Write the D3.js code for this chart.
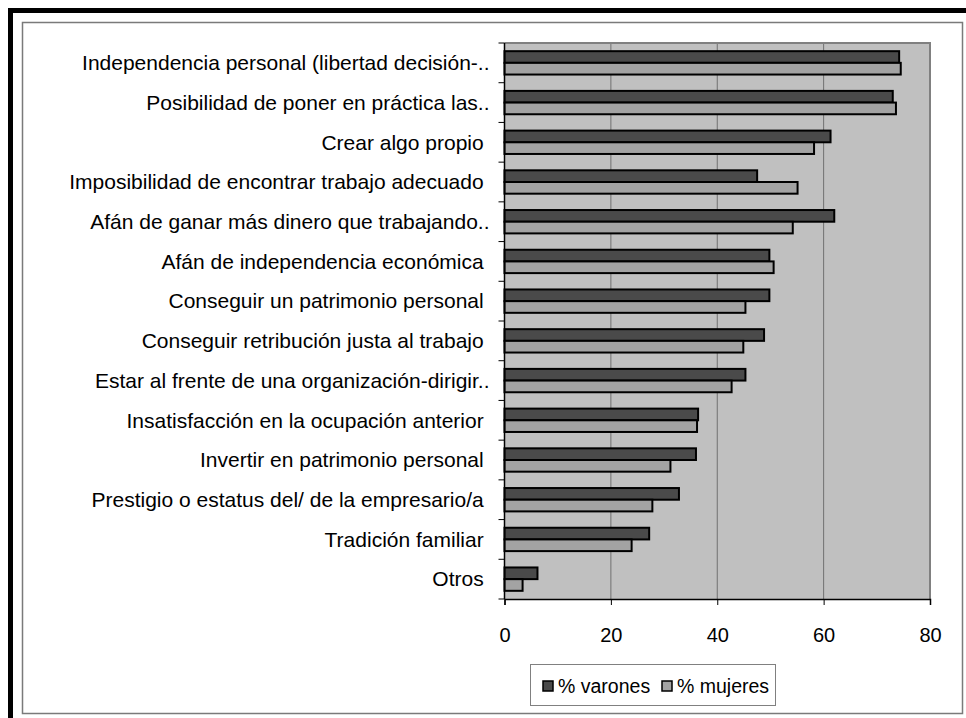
<!DOCTYPE html>
<html>
<head>
<meta charset="utf-8">
<script src="https://cdn.jsdelivr.net/npm/d3@7"></script>
<style>
  html, body { margin: 0; padding: 0; background: #fff; }
  svg text { font-family: Arial, "Liberation Sans", sans-serif; fill: #000; white-space: pre; }
</style>
</head>
<body>
<svg id="chart" width="966" height="718"></svg>
<script>
const categories = [
  "Independencia personal (libertad decisión-..",
  "Posibilidad de poner en práctica las..",
  "Crear algo propio ",
  "Imposibilidad de encontrar trabajo adecuado ",
  "Afán de ganar más dinero que trabajando..",
  "Afán de independencia económica ",
  "Conseguir un patrimonio personal ",
  "Conseguir retribución justa al trabajo ",
  "Estar al frente de una organización-dirigir..",
  "Insatisfacción en la ocupación anterior ",
  "Invertir en patrimonio personal ",
  "Prestigio o estatus del/ de la empresario/a ",
  "Tradición familiar ",
  "Otros "
];
const varones = [74.2, 73.0, 61.3, 47.5, 62.0, 49.8, 49.8, 48.8, 45.3, 36.4, 36.0, 32.8, 27.2, 6.2];
const mujeres = [74.5, 73.6, 58.2, 55.1, 54.2, 50.6, 45.3, 44.9, 42.7, 36.2, 31.2, 27.8, 23.9, 3.4];
const seriesNames = ["% varones", "% mujeres"];
const xTicks = [0, 20, 40, 60, 80];

const colors = ["#4a4a4a", "#a3a3a3"];
const svg = d3.select("#chart");

// Outer frame
svg.append("rect").attr("x", 10.5).attr("y", 10.5).attr("width", 1000).attr("height", 1000)
  .attr("fill", "none").attr("stroke", "#000").attr("stroke-width", 5);
svg.append("rect").attr("x", 22.5).attr("y", 22.5).attr("width", 940).attr("height", 691)
  .attr("fill", "#fff").attr("stroke", "#7a7a7a").attr("stroke-width", 1.5);

const plot = { left: 504.5, right: 930, top: 43, bottom: 599 };

const x = d3.scaleLinear().domain([0, 80]).range([plot.left, plot.right]);
const y = d3.scaleBand().domain(categories).range([plot.top, plot.bottom]).paddingInner(0).paddingOuter(0);
const groupW = y.bandwidth() / 1.7;
const ySub = d3.scaleBand().domain(seriesNames).range([0, groupW]);

// Plot background
svg.append("rect").attr("x", plot.left).attr("y", plot.top)
  .attr("width", plot.right - plot.left).attr("height", plot.bottom - plot.top)
  .attr("fill", "#c0c0c0");

// Grid lines
svg.append("g").selectAll("line").data(xTicks.slice(1)).join("line")
  .attr("x1", d => x(d)).attr("x2", d => x(d))
  .attr("y1", plot.top).attr("y2", plot.bottom)
  .attr("stroke", "#707070").attr("stroke-width", 1);

// Plot border (top & right)
svg.append("path")
  .attr("d", `M${plot.left},${plot.top}H${plot.right}V${plot.bottom}`)
  .attr("fill", "none").attr("stroke", "#808080").attr("stroke-width", 2);

// Bars
const series = [varones, mujeres];
series.forEach((vals, si) => {
  svg.append("g").selectAll("rect").data(categories).join("rect")
    .attr("x", x(0))
    .attr("y", (c) => y(c) + (y.bandwidth() - groupW) / 2 + ySub(seriesNames[si]))
    .attr("width", (c, i) => x(vals[i]) - x(0))
    .attr("height", ySub.bandwidth())
    .attr("fill", colors[si])
    .attr("stroke", "#000").attr("stroke-width", 2);
});

// Y axis
const yg = svg.append("g").attr("transform", `translate(${plot.left},0)`);
yg.append("line").attr("x1", 0).attr("x2", 0).attr("y1", plot.top).attr("y2", plot.bottom)
  .attr("stroke", "#000").attr("stroke-width", 1.5);
const boundaries = d3.range(categories.length + 1).map(i => plot.top + i * y.step());
yg.selectAll("line.tk").data(boundaries).join("line").attr("class", "tk")
  .attr("x1", -6).attr("x2", 0).attr("y1", d => d).attr("y2", d => d)
  .attr("stroke", "#000").attr("stroke-width", 1);
yg.selectAll("text").data(categories).join("text")
  .attr("x", -15).attr("y", c => y(c) + y.bandwidth() / 2)
  .attr("dy", "0.35em")
  .attr("text-anchor", "end")
  .attr("font-size", 21)
  .text(c => c);

// X axis
const xAxis = d3.axisBottom(x).tickValues(xTicks).tickSize(6).tickPadding(23).tickFormat(d3.format("d"));
const xg = svg.append("g").attr("transform", `translate(0,${plot.bottom})`).call(xAxis);
xg.select(".domain").attr("stroke", "#000").attr("stroke-width", 1.5);
xg.selectAll(".tick line").attr("stroke", "#000");
xg.selectAll(".tick text").attr("font-size", 20).attr("font-family", "Arial, 'Liberation Sans', sans-serif");

// Legend
const lg = svg.append("g");
lg.append("rect").attr("x", 530.5).attr("y", 664.5).attr("width", 245).attr("height", 41)
  .attr("fill", "#fff").attr("stroke", "#808080").attr("stroke-width", 1);
const legendX = [543, 662];
seriesNames.forEach((n, i) => {
  lg.append("rect").attr("x", legendX[i]).attr("y", 681).attr("width", 10).attr("height", 10)
    .attr("fill", colors[i]).attr("stroke", "#000").attr("stroke-width", 1.5);
  lg.append("text").attr("x", legendX[i] + 15).attr("y", 686).attr("dy", "0.35em")
    .attr("font-size", 19.5).text(n);
});
</script>
</body>
</html>
